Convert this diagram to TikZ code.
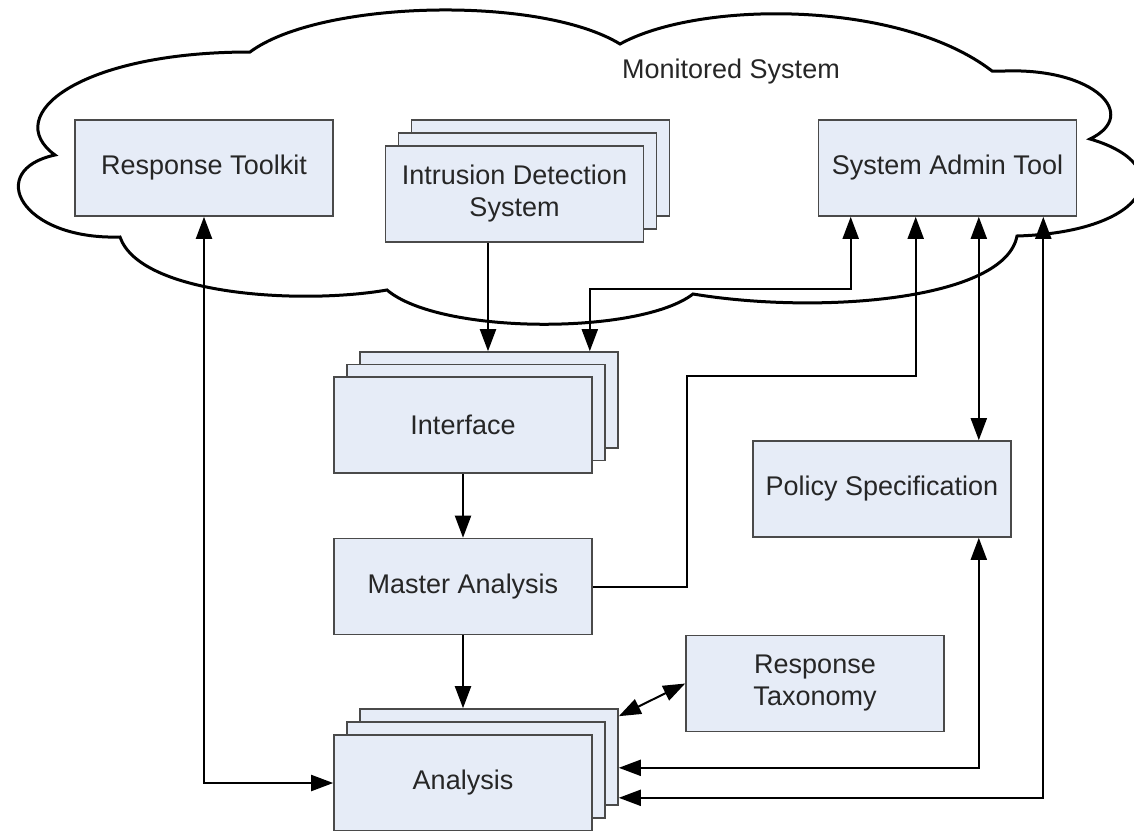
\documentclass[tikz,border=0pt]{standalone}
\usepackage{fontspec}
\setmainfont{Liberation Sans}
\usetikzlibrary{arrows.meta}
\definecolor{boxfill}{HTML}{E6ECF7}
\definecolor{boxline}{HTML}{4A4A4A}
\definecolor{txt}{HTML}{262626}
\newcommand\lblfont{\fontsize{27}{32}\selectfont}
\tikzset{
  box/.style={draw=boxline, fill=boxfill, line width=1.6pt,
    minimum width=258pt, minimum height=96pt, inner sep=0pt,
    align=center, font=\lblfont, text=txt},
  conn/.style={line width=2pt, black},
  tipA/.tip={Triangle[length=22pt,width=16pt]},
  one/.style={conn, -tipA},
  two/.style={conn, tipA-tipA},
}
\begin{document}
\begin{tikzpicture}[x=1pt, y=-1pt]
\useasboundingbox (0,0) rectangle (1134,830);

% cloud outline of the monitored system
\draw[line width=3pt, black, line join=miter]
  (55,155) .. controls (0,115) and (80,52) .. (250,52)
  .. controls (320,0) and (540,-5) .. (620,44)
  .. controls (700,0) and (900,0) .. (992,71)
  -- (1005,71)
  .. controls (1095,68) and (1140,115) .. (1090,139)
  .. controls (1180,165) and (1150,232) .. (1017,236)
  .. controls (1005,300) and (820,315) .. (693,294)
  .. controls (640,335) and (440,335) .. (387,290)
  .. controls (300,305) and (140,295) .. (120,237)
  .. controls (20,240) and (-15,170) .. (55,155)
  -- cycle;
\node[font=\lblfont, text=txt] (title) at (731,72) {Monitored System};

% boxes inside the cloud
\node[box] (rt) at (204,168) {Response Toolkit};
\node[box] (ids3) at (540.5,168) {};
\node[box] (ids2) at (527.5,181) {};
\node[box] (ids) at (514.5,194) {Intrusion Detection\\System};
\node[box] (sat) at (947.5,168) {System Admin Tool};

% interface stack
\node[box] (intf3) at (489,400) {};
\node[box] (intf2) at (476,412.5) {};
\node[box] (intf) at (463,425) {Interface};

\node[box] (pol) at (882,489) {Policy Specification};
\node[box] (ma) at (463,586.5) {Master Analysis};
\node[box] (rtax) at (815,683.5) {Response\\Taxonomy};

% analysis stack
\node[box] (ana3) at (489,757) {};
\node[box] (ana2) at (476,770) {};
\node[box] (ana) at (463,783) {Analysis};

% connectors
\coordinate (bendA) at (687,376);
\draw[one] ([xshift=-26.5pt]ids.south) -- ([xshift=-26.5pt]ids.south |- intf3.north);
\draw[two] ([xshift=-29pt]intf3.north east) -- ++(0,-62) -| ([xshift=33pt]sat.south west);
\draw[one] (ma.east) -| (bendA) -| ([xshift=98pt]sat.south west);
\draw[two] ([xshift=-33pt]pol.north east) -- ([xshift=-33pt]pol.north east |- sat.south);
\draw[two] ([xshift=-33pt]pol.south east) |- ([yshift=38pt]ana3.south east);
\draw[two] ([xshift=-34pt]sat.south east) |- ([yshift=8pt]ana3.south east);
\draw[two] (rt.south) |- (ana.west);
\draw[one] (intf.south) -- (ma.north);
\draw[one] (ma.south) -- (ma.south |- ana3.north);
\draw[two] ([yshift=-8pt]ana3.north east) -- (rtax.west);
\end{tikzpicture}
\end{document}
